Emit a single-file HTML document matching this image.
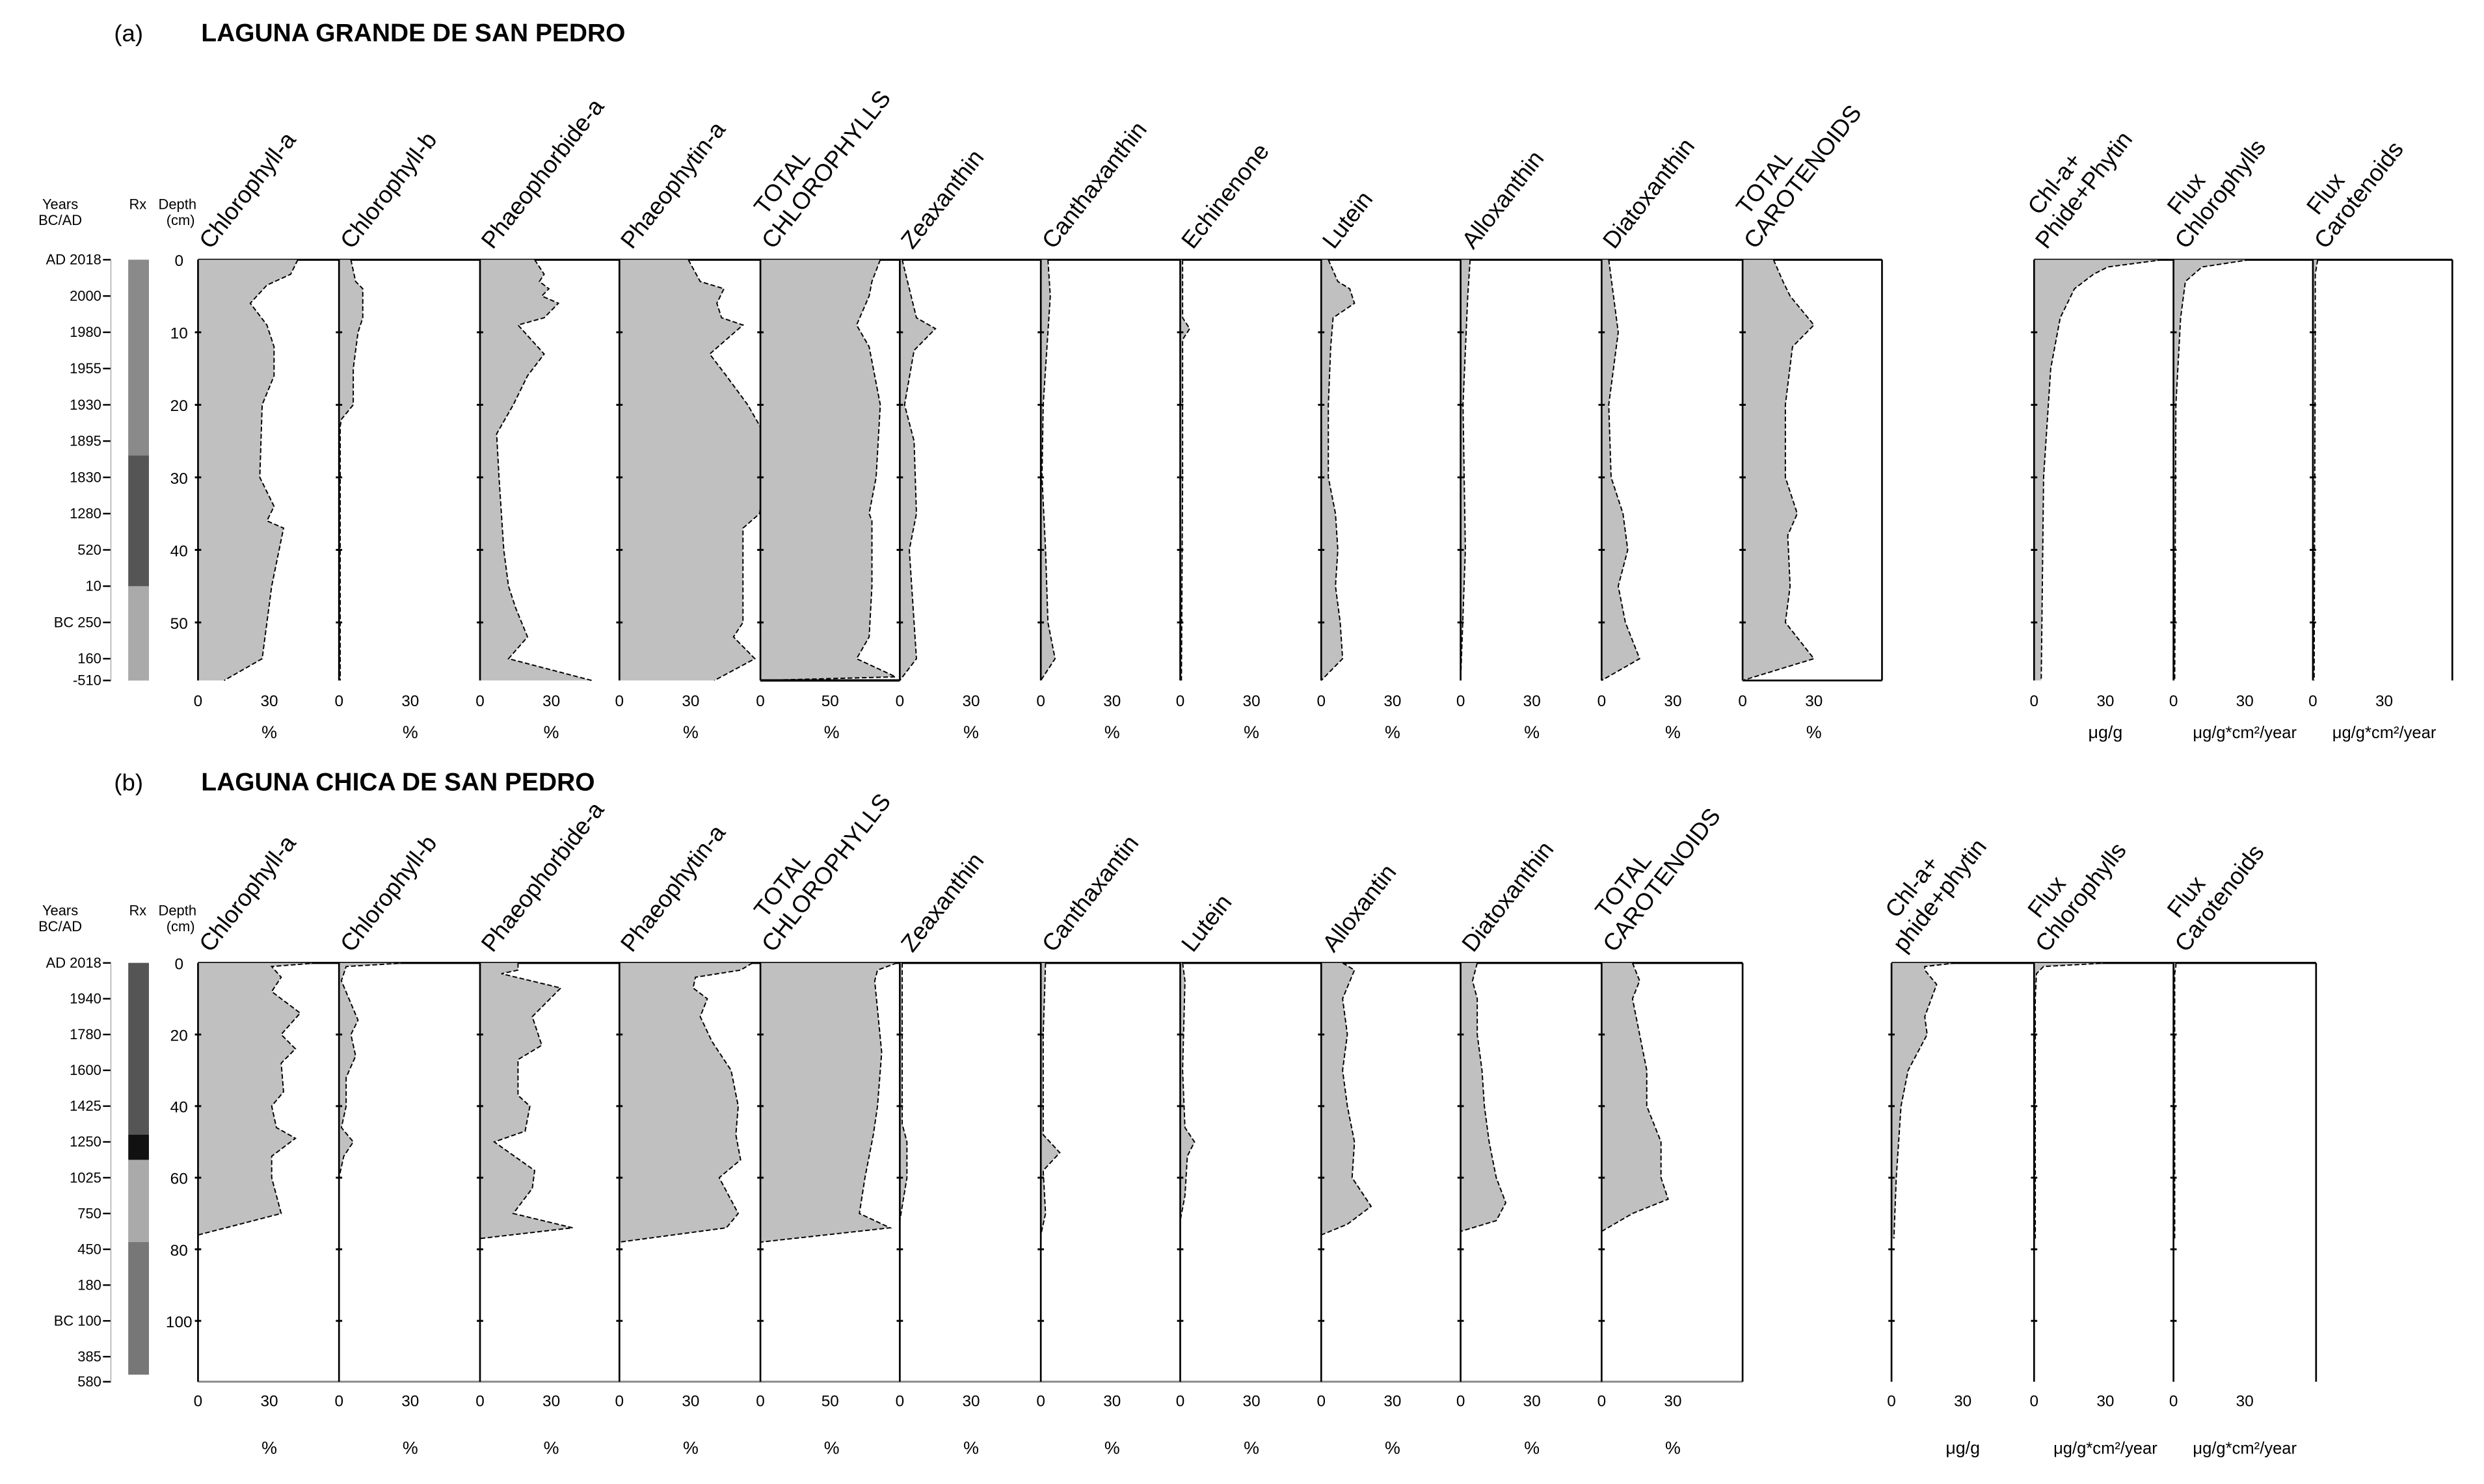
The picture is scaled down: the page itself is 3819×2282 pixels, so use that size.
<!DOCTYPE html>
<html><head><meta charset="utf-8"><style>
html,body{margin:0;padding:0;background:#fff;}
svg{display:block;font-family:"Liberation Sans",Arial,sans-serif;}
</style></head><body>
<svg id="chart" width="3819" height="2282" viewBox="0 0 1568 937" preserveAspectRatio="none" xmlns="http://www.w3.org/2000/svg">
<text x="72" y="26" font-size="15">(a)</text>
<text x="127" y="26" font-size="16" font-weight="bold">LAGUNA GRANDE DE SAN PEDRO</text>
<text x="72" y="499" font-size="15">(b)</text>
<text x="127" y="499" font-size="16" font-weight="bold">LAGUNA CHICA DE SAN PEDRO</text>
<g id="plots"></g>
</svg>
<script>
// ---------- DATA: panel (a) Laguna Grande ----------
const aDepthTicks = [0,10,20,30,40,50];
const aYears = ["AD 2018","2000","1980","1955","1930","1895","1830","1280","520","10","BC 250","160","-510"];
const aYearDepths = [0,5,10,15,20,25,30,35,40,45,50,55,58];
const aChlaD = [0,2,3.5,6,9,12,16,20,30,34,36,37,45,55,58];
const aChlaV = [42,39,29,22,29,32,32,27,26,32,29,36,31,27,11];
const aChlbD = [0,3,4,8,10,15,20,22,23,58];
const aChlbV = [5,7,10,10,8,6,6,1,0.5,0.5];
const aPhorD = [0,2,3,4,5,6,8,9,13,16,20,24,30,40,45,48,52,55,58];
const aPhorV = [23,27,25,29,26,33,27,16,27,20,14,7,8,10,12,15,20,12,47];
const aPhytD = [0,3,4,6,8,9,13,16,20,24,30,35,37,40,50,52,55,58];
const aPhytV = [29,34,44,41,43,52,38,45,54,61,61,59,52,52,52,48,57,40];
const aTchlD = [0,3,5,9,12,20,30,35,36,45,52,55,57.5,58];
const aTchlV = [86,80,78,69,78,86,83,78,80,80,78,69,97,0];
const aZeaD = [0,4,8,9.5,12.5,20,25,35,40,50,55,58];
const aZeaV = [1,4,7,15,6,2,6,7,4,6,7,0];
const aCanD = [0,5,20,30,40,50,55,58];
const aCanV = [3,4,1,0.5,2,3,6,0];
const aEchD = [0,8,9.5,11,30,58];
const aEchV = [1,1,4,1,1,0.5];
const aLutD = [0,3,4,6,8,12,20,30,35,40,45,50,55,58];
const aLutV = [3,7,12,14,5,4,3,3,6,7,6,8,9,0];
const aAllD = [0,5,20,40,58];
const aAllV = [4,3,1,2,0];
const aDiaD = [0,5,10,20,30,35,40,45,50,55,58];
const aDiaV = [3,5,7,3,4,9,11,7,10,16,0];
const aTcarD = [0,3,5,9,12,20,30,35,38,45,50,55,58];
const aTcarV = [13,17,20,30,21,18,18,23,19,20,18,30,0];
const aPhinD = [0,1,2,4,8,15,30,58];
const aPhinV = [54,31,25,17,11,7,4,3];
const aFchlD = [0,1,3,8,20,58];
const aFchlV = [32,12,5,3,1,0.5];
const aFcarD = [0,2,10,58];
const aFcarV = [2,1,1,0.5];

// ---------- DATA: panel (b) Laguna Chica ----------
const bDepthTicks = [0,20,40,60,80,100];
const bYears = ["AD 2018","1940","1780","1600","1425","1250","1025","750","450","180","BC 100","385","580"];
const bYearDepths = [0,10,20,30,40,50,60,70,80,90,100,110,117];
const bChlaD = [0,1,4,8,14,20,24,28,36,40,46,49,54,60,70,76];
const bChlaV = [50,31,35,31,43,35,41,35,36,31,33,41,31,31,35,0];
const bChlbD = [0,1,5,16,20,26,32,40,46,50,54,60];
const bChlbV = [28,3,1,8,5,7,3,3,1,6,2,0];
const bPhorD = [0,2,3,7,15,23,27,37,40,47,50,58,63,70,74,77];
const bPhorV = [16,16,9,34,22,26,16,16,21,19,6,23,22,14,39,0];
const bPhytD = [0,2,4,7,10,15,22,30,40,48,55,60,70,74,78];
const bPhytV = [56,51,32,31,37,34,39,47,50,49,51,42,50,45,0];
const bTchlD = [0,2,5,25,40,48,60,70,74,78];
const bTchlV = [98,84,82,87,84,81,75,71,93,0];
const bZeaD = [0,20,45,50,60,68,72];
const bZeaV = [1,1,1,3,3,1,0];
const bCanD = [0,20,48,53,58,70,76];
const bCanV = [2,1,1,8,1,2,0];
const bLutD = [0,5,30,46,50,54,65,72];
const bLutV = [1,2,1,2,6,3,2,0];
const bAllD = [0,2,10,20,30,40,50,60,68,73,76];
const bAllV = [9,14,9,11,9,11,14,13,21,11,0];
const bDiaD = [0,5,10,20,30,40,50,60,67,72,75];
const bDiaV = [7,5,7,7,9,10,12,15,19,15,0];
const bTcarD = [0,5,10,20,30,40,50,60,66,70,75];
const bTcarV = [13,16,13,16,19,19,25,25,28,13,0];
const bPhinD = [0,1,2,6,15,20,25,30,40,50,60,77];
const bPhinV = [27,14,14,19,14,15,11,7,4,3,2,1];
const bFchlD = [0,1,3,10,77];
const bFchlV = [31,4,1,0.5,0.5];
const bFcarD = [0,1,3,77];
const bFcarV = [1,1,0.5,0.5];

// ---------- LAYOUT ----------
const NS = "http://www.w3.org/2000/svg";
const root = document.getElementById("plots");
function mk(tag, attrs, parent){
  const e = document.createElementNS(NS, tag);
  for (const k in attrs) e.setAttribute(k, attrs[k]);
  (parent||root).appendChild(e);
  return e;
}
const panels = [
 {key:"a", y0:164, ppc:4.58, dMax:58, tickLab:446, unitY:466, tickDepths:aDepthTicks, years:aYears, yearDepths:aYearDepths,
  hdrY:132, topLines:[[125,1188],[1284,1548]],
  cols:[
   {x:125,t:"Chlorophyll-a",d:aChlaD,v:aChlaV},
   {x:214,t:"Chlorophyll-b",d:aChlbD,v:aChlbV},
   {x:303,t:"Phaeophorbide-a",d:aPhorD,v:aPhorV},
   {x:391,t:"Phaeophytin-a",d:aPhytD,v:aPhytV},
   {x:480,t:["TOTAL","CHLOROPHYLLS"],d:aTchlD,v:aTchlV,k:0.88,lab:"50",bottom:true},
   {x:568,t:"Zeaxanthin",d:aZeaD,v:aZeaV},
   {x:657,t:"Canthaxanthin",d:aCanD,v:aCanV},
   {x:745,t:"Echinenone",d:aEchD,v:aEchV},
   {x:834,t:"Lutein",d:aLutD,v:aLutV},
   {x:922,t:"Alloxanthin",d:aAllD,v:aAllV},
   {x:1011,t:"Diatoxanthin",d:aDiaD,v:aDiaV},
   {x:1100,t:["TOTAL","CAROTENOIDS"],d:aTcarD,v:aTcarV,box:1188,boxBottom:true},
   {x:1284,t:["Chl-a+","Phide+Phytin"],d:aPhinD,v:aPhinV,unit:"μg/g"},
   {x:1372,t:["Flux","Chlorophylls"],d:aFchlD,v:aFchlV,unit:"μg/g*cm²/year"},
   {x:1460,t:["Flux","Carotenoids"],d:aFcarD,v:aFcarV,unit:"μg/g*cm²/year",rightLine:1548}
  ]},
 {key:"b", y0:608, ppc:2.26, dMax:117, tickLab:888, unitY:918, tickDepths:bDepthTicks, years:bYears, yearDepths:bYearDepths,
  hdrY:578, topLines:[[125,1100],[1194,1462]],
  cols:[
   {x:125,t:"Chlorophyll-a",d:bChlaD,v:bChlaV},
   {x:214,t:"Chlorophyll-b",d:bChlbD,v:bChlbV},
   {x:303,t:"Phaeophorbide-a",d:bPhorD,v:bPhorV},
   {x:391,t:"Phaeophytin-a",d:bPhytD,v:bPhytV},
   {x:480,t:["TOTAL","CHLOROPHYLLS"],d:bTchlD,v:bTchlV,k:0.88,lab:"50"},
   {x:568,t:"Zeaxanthin",d:bZeaD,v:bZeaV},
   {x:657,t:"Canthaxantin",d:bCanD,v:bCanV},
   {x:745,t:"Lutein",d:bLutD,v:bLutV},
   {x:834,t:"Alloxantin",d:bAllD,v:bAllV},
   {x:922,t:"Diatoxanthin",d:bDiaD,v:bDiaV},
   {x:1011,t:["TOTAL","CAROTENOIDS"],d:bTcarD,v:bTcarV,box:1100},
   {x:1194,t:["Chl-a+","phide+phytin"],d:bPhinD,v:bPhinV,unit:"μg/g"},
   {x:1284,t:["Flux","Chlorophylls"],d:bFchlD,v:bFchlV,unit:"μg/g*cm²/year"},
   {x:1372,t:["Flux","Carotenoids"],d:bFcarD,v:bFcarV,unit:"μg/g*cm²/year",rightLine:1462}
  ]}
];

panels.forEach(p=>{
  const g = mk("g",{});
  
  
  const Y = d => p.y0 + d*p.ppc;
  const yBot = Y(p.dMax);
  let t = mk("text",{x:38,y:p.hdrY,"font-size":"9","text-anchor":"middle"},g); t.textContent="Years";
   
  t = mk("text",{x:38,y:p.hdrY+10,"font-size":"9","text-anchor":"middle"},g); t.textContent="BC/AD";
  t = mk("text",{x:87,y:p.hdrY,"font-size":"9","text-anchor":"middle"},g); t.textContent="Rx";
   
  t = mk("text",{x:112,y:p.hdrY,"font-size":"9","text-anchor":"middle"},g); t.textContent="Depth";
   
  t = mk("text",{x:114,y:p.hdrY+10,"font-size":"9","text-anchor":"middle"},g); t.textContent="(cm)";
  const core = mk("g",{},g);
   
  const coreEnd = p.key==="a" ? yBot : Y(115);
  mk("rect",{x:81,y:p.y0,width:13,height:coreEnd-p.y0,fill:"#777"},core);
  if(p.key==="a"){
    mk("rect",{x:81,y:p.y0,width:13,height:Y(27)-p.y0,fill:"#8a8a8a"},core);
    mk("rect",{x:81,y:Y(27),width:13,height:Y(45)-Y(27),fill:"#555"},core);
    mk("rect",{x:81,y:Y(45),width:13,height:yBot-Y(45),fill:"#aaa"},core);
  } else {
    mk("rect",{x:81,y:p.y0,width:13,height:Y(48)-p.y0,fill:"#555"},core);
    mk("rect",{x:81,y:Y(48),width:13,height:Y(55)-Y(48),fill:"#111"},core);
    mk("rect",{x:81,y:Y(55),width:13,height:Y(78)-Y(55),fill:"#aaa"},core);
    mk("rect",{x:81,y:Y(78),width:13,height:Y(115)-Y(78),fill:"#777"},core);
  }
  p.years.forEach((yr,i)=>{
    const yy = Y(p.yearDepths[i]);
    const tx = mk("text",{x:64,y:yy+3,"font-size":"9","text-anchor":"end"},g);
    tx.textContent = yr;
     
    mk("line",{x1:65,x2:70,y1:yy,y2:yy,stroke:"#000","stroke-width":"1"},g);
  });
  mk("line",{x1:70,x2:70,y1:p.y0,y2:yBot,stroke:"#aaa","stroke-width":"0.6"},g);
  p.tickDepths.forEach(d=>{
    const tx = mk("text",{x:113,y:Y(d)+4,"font-size":"10","text-anchor":"middle"},g);
    tx.textContent = d;
     
  });
  p.topLines.forEach(l=> mk("line",{x1:l[0],x2:l[1],y1:p.y0,y2:p.y0,stroke:"#000","stroke-width":"1.3"},g));
  if(p.key==="b") mk("line",{x1:125,x2:1100,y1:yBot,y2:yBot,stroke:"#888","stroke-width":"1.2"},g);
  p.cols.forEach(c=>{
    const k = c.k || 1.5;
    const X = v => c.x + v*k;
    const cg = mk("g",{},g);
    const nm = (Array.isArray(c.t)?c.t.join("-"):c.t).toLowerCase().replace(/[^a-z0-9]+/g,"-").replace(/-$/,"");
    
    
    let pts = [[c.x, Y(c.d[0])]];
    c.d.forEach((d,i)=> pts.push([X(c.v[i]), Y(d)]));
    pts.push([c.x, Y(c.d[c.d.length-1])]);
    const poly = mk("polygon",{points:pts.map(q=>q.join(",")).join(" "),fill:"#c0c0c0",stroke:"none"},cg);
    
    
    const line = mk("polyline",{points:pts.slice(1,-1).map(q=>q.join(",")).join(" "),fill:"none",stroke:"#000","stroke-width":"0.8","stroke-dasharray":"3,1.5"},cg);
    
    
    mk("line",{x1:c.x,x2:c.x,y1:p.y0,y2:yBot,stroke:"#000","stroke-width":"1.1"},cg);
    p.tickDepths.forEach(d=>{ if(d>0) mk("line",{x1:c.x-2,x2:c.x+2,y1:Y(d),y2:Y(d),stroke:"#000","stroke-width":"1.2"},cg); });
    if(c.box){
      mk("line",{x1:c.box,x2:c.box,y1:p.y0,y2:yBot,stroke:"#000","stroke-width":"1.1"},cg);
      if(c.boxBottom) mk("line",{x1:c.x,x2:c.box,y1:yBot,y2:yBot,stroke:"#000","stroke-width":"1.1"},cg);
    }
    if(c.bottom) mk("line",{x1:c.x,x2:c.x+88,y1:yBot,y2:yBot,stroke:"#000","stroke-width":"1.5"},cg);
    if(c.rightLine) mk("line",{x1:c.rightLine,x2:c.rightLine,y1:p.y0,y2:yBot,stroke:"#000","stroke-width":"1.1"},cg);
    let tl = mk("text",{x:c.x,y:p.tickLab,"font-size":"10","text-anchor":"middle"},cg); tl.textContent="0";
     
    tl = mk("text",{x:c.x+ (c.lab? 44:45),y:p.tickLab,"font-size":"10","text-anchor":"middle"},cg); tl.textContent=c.lab||"30";
     
    const u = mk("text",{x:c.x+45,y:p.unitY,"font-size":c.unit&&c.unit.length>5?"10.5":"11","text-anchor":"middle"},cg);
    u.textContent = c.unit || "%";
     
    const lines = Array.isArray(c.t)? c.t : [c.t];
    const tt = mk("text",{"font-size":"15",transform:`translate(${c.x+8},${p.y0-6}) rotate(-52)`},cg);
     
    lines.forEach((ln,i)=>{
      const ts = mk("tspan",{x: i===0&&lines.length>1? 14:0, dy: i===0 ? (lines.length>1?-17:0) : 17},tt);
      ts.textContent = ln;
    });
  });
});
</script>
</body></html>
